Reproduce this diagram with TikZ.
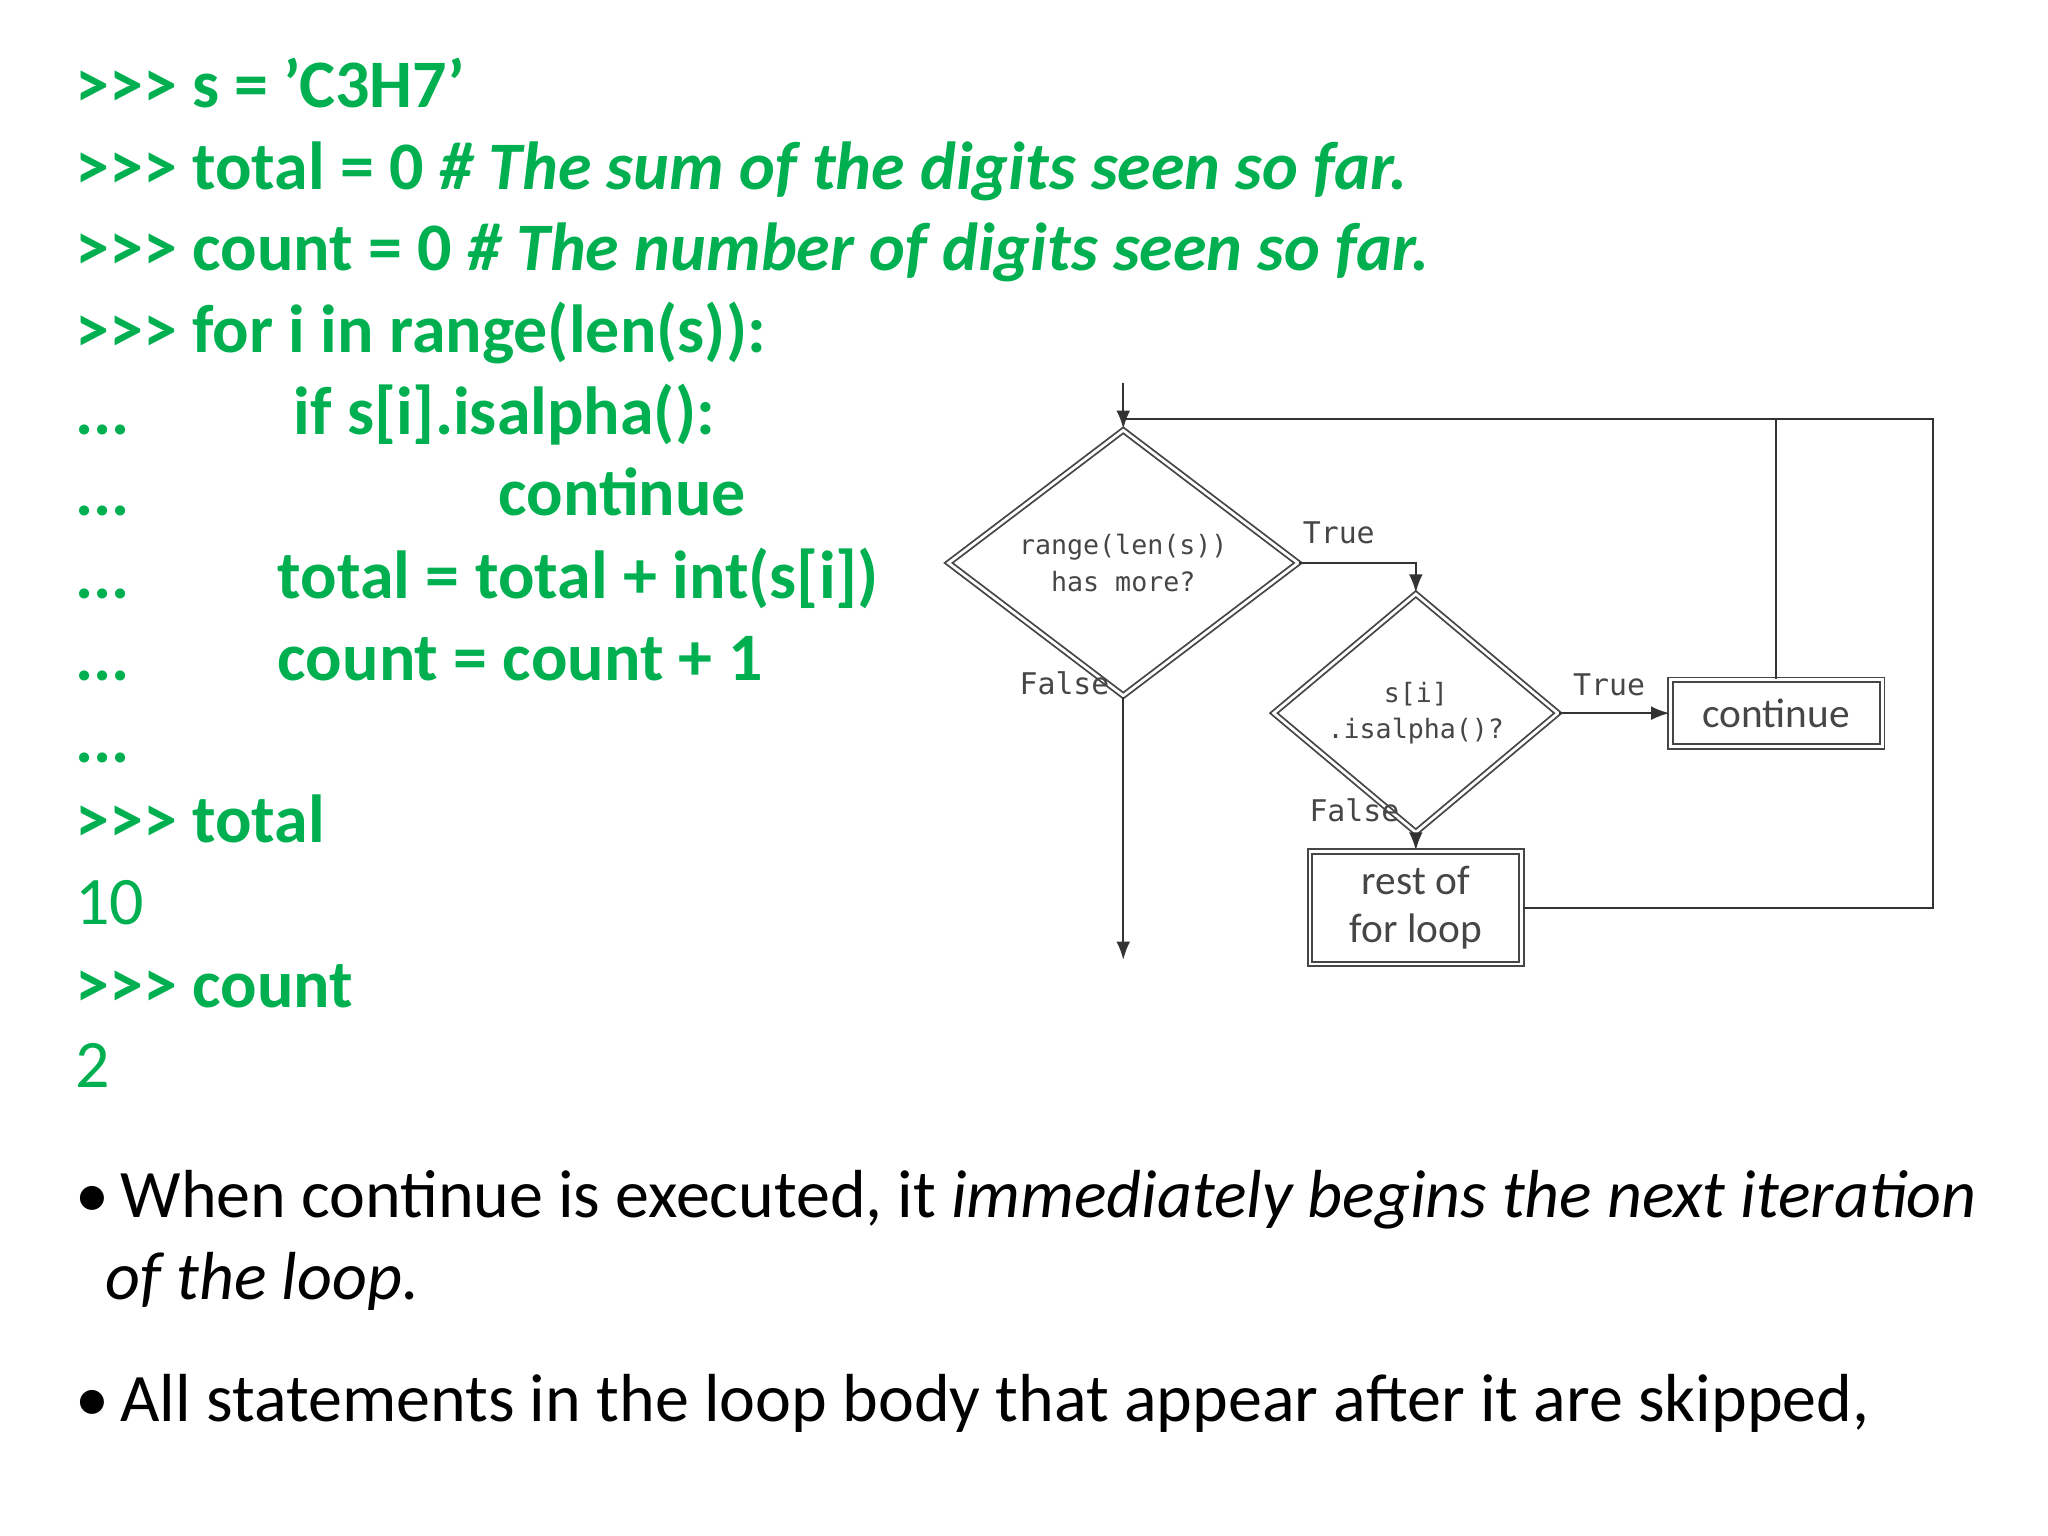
\documentclass[tikz,border=0pt]{standalone}
\usepackage{fontspec}
\setmainfont{Carlito}
\newfontfamily\diagfont{DejaVu Sans Mono}
\usetikzlibrary{arrows.meta,shapes.geometric}
\definecolor{codegreen}{RGB}{0,176,80}
\definecolor{dgray}{RGB}{70,70,70}
\tikzset{
 code/.style={anchor=base west,inner sep=0,text=codegreen,font=\fontsize{14.8}{17}\selectfont\bfseries},
 outtext/.style={anchor=base west,inner sep=0,text=codegreen,font=\fontsize{14.8}{17}\selectfont},
 dec/.style={diamond,draw=dgray,double,double distance=0.6pt,inner sep=0,font=\diagfont\fontsize{5.8}{8}\selectfont,text=dgray,align=center},
 boxn/.style={rectangle,draw=dgray,double,double distance=0.6pt,inner sep=0,font=\fontsize{9}{10.5}\selectfont,text=dgray,align=center},
 lbl/.style={font=\diagfont\fontsize{6.5}{8}\selectfont,text=dgray,inner sep=0},
 ln/.style={draw=black!80,line width=0.5pt},
 arr/.style={ln,-{Latex[length=4pt,width=3pt]}}
}
\begin{document}
\begin{tikzpicture}[x=0.01cm,y=-0.01cm]
\useasboundingbox (0,0) rectangle (1568,1176);
\node[code] (l1) at (57,82) {>{}>{}> s = \symbol{39}C3H7\symbol{39}};
\node[code] (l2) at (57,145) {>{}>{}> total = 0 \itshape\# The sum of the digits seen so far.};
\node[code] (l3) at (57,207) {>{}>{}> count = 0 \itshape\# The number of digits seen so far.};
\node[code] (l4) at (57,270) {>{}>{}> for i in range(len(s)):};
\node[code] (l5) at (57,333) {...};
\node[code] (l5b) at (224,333) {if s[i].isalpha():};
\node[code] (l6) at (57,395) {...};
\node[code] (l6b) at (381,395) {continue};
\node[code] (l7) at (57,458) {...};
\node[code] (l7b) at (212,458) {total = total + int(s[i])};
\node[code] (l8) at (57,521) {...};
\node[code] (l8b) at (212,521) {count = count + 1};
\node[code] (l9) at (57,584) {...};
\node[code] (l10) at (57,645) {>{}>{}> total};
\node[outtext] (l11) at (57,708) {10};
\node[code] (l12) at (57,771) {>{}>{}> count};
\node[outtext] (l13) at (57,833) {2};
% bullets
\node[anchor=north west,inner sep=0,font=\fontsize{14.8}{18}\selectfont] (b1) at (57,895)
 {\parbox[t]{14.55cm}{\hangindent=0.23cm\hangafter=1 \textbullet\,When continue is executed, it \textit{immediately begins the next iteration of the loop.}}};
\node[anchor=base west,inner sep=0,font=\fontsize{14.8}{17}\selectfont] (b2) at (57,1088)
 {\textbullet\,All statements in the loop body that appear after it are skipped,};
% flowchart
\node[dec,minimum width=2.68cm,minimum height=1.28cm] (d1) at (860,431) {range(len(s))\\has more?};
\node[dec,minimum width=2.18cm,minimum height=1.18cm] (d2) at (1084,546) {s[i]\\.isalpha()?};
\node[boxn,minimum width=1.62cm,minimum height=0.51cm] (cont) at (1360,546) {continue};
\node[boxn,minimum width=1.62cm,minimum height=0.86cm] (rest) at (1084,695) {rest of\\for loop};
\coordinate (top) at (860,293);
\coordinate (bot) at (860,735);
\coordinate (tr) at (1480,321);
\draw[arr] (top) -- (d1.north);
\draw[arr] (d1.east) -| (d2.north);
\draw[arr] (d2.east) -- (cont.west);
\draw[arr] (d2.south) -- (rest.north);
\draw[arr] (d1.south) -- (bot);
\draw[ln] (rest.east) -| (tr) -- (860,321);
\draw[ln] (cont.north) -- (1360,321);
\node[lbl] (t1) at (1025,408) {True};
\node[lbl] (t2) at (1232,524) {True};
\node[lbl] (f1) at (815,523) {False};
\node[lbl] (f2) at (1037,620) {False};
\end{tikzpicture}
\end{document}
